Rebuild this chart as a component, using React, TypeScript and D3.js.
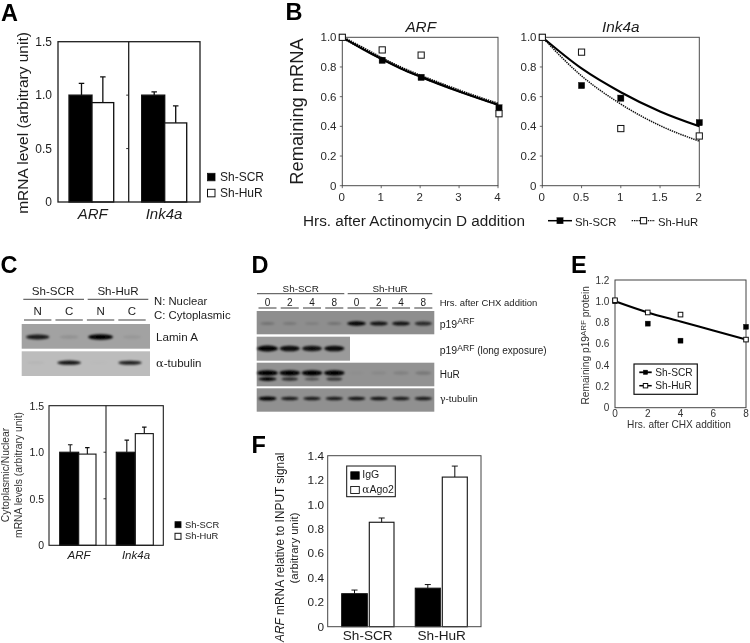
import React from "react";
import * as d3 from "d3";

const FONT = "'Liberation Sans', Arial, sans-serif";
const INK = "#1c1c1c";

// ---------- Panel A ----------
const genes = ["ARF", "Ink4a"];
const aScr = [1.0, 1.0];
const aHur = [0.93, 0.74];
const aScrTop = [1.11, 1.03];
const aHurTop = [1.17, 0.9];
const barTicks = [0, 0.5, 1.0, 1.5];
const barTickLabels = ["0", "0.5", "1.0", "1.5"];

// ---------- Panel B ----------
const arfHours = [0, 1, 2, 4];
const arfCurveHours = [0, 0.5, 1, 1.5, 2, 3, 4];
const arfCurveScr = [1.0, 0.925, 0.855, 0.79, 0.735, 0.635, 0.545];
const arfCurveHur = [1.0, 0.93, 0.86, 0.795, 0.74, 0.64, 0.55];
const arfScrPts = [1.0, 0.845, 0.73, 0.525];
const arfHurPts = [1.0, 0.915, 0.88, 0.485];
const arfXTicks = [0, 1, 2, 3, 4];
const inkHours = [0, 0.5, 1, 2];
const inkCurveHours = [0, 0.5, 1, 1.5, 2];
const inkCurveScr = [1.0, 0.79, 0.63, 0.5, 0.4];
const inkCurveHur = [1.0, 0.74, 0.55, 0.405, 0.3];
const inkScrPts = [1.0, 0.675, 0.59, 0.425];
const inkHurPts = [1.0, 0.9, 0.385, 0.335];
const inkXTicks = [0, 0.5, 1, 1.5, 2];
const inkXLabels = ["0", "0.5", "1", "1.5", "2"];
const unitTicks = [0, 0.2, 0.4, 0.6, 0.8, 1.0];
const unitLabels = ["0", "0.2", "0.4", "0.6", "0.8", "1.0"];

// ---------- Panel C ----------
const cScr = [1.0, 1.0];
const cHur = [0.98, 1.2];
const cScrTop = [1.08, 1.13];
const cHurTop = [1.05, 1.27];
const cLanes = ["N", "C", "N", "C"];
const laminBands = [0.8, 0.1, 1.0, 0.07];
const tubulinBands = [0.04, 0.85, 0.02, 0.8];

// ---------- Panel D ----------
const dLanes = ["0", "2", "4", "8", "0", "2", "4", "8"];
const p19Bands = [0.2, 0.16, 0.12, 0.2, 1.0, 0.85, 0.85, 0.7];
const p19LongBands = [1.0, 0.9, 0.85, 0.9];
const hurUpperBands = [1.0, 0.95, 0.95, 0.95, 0.03, 0.07, 0.12, 0.18];
const hurLowerBands = [1.0, 0.7, 0.45, 0.65, 0, 0, 0, 0];
const gammaBands = [0.95, 0.8, 0.8, 0.8, 0.85, 0.85, 0.8, 0.8];

// ---------- Panel E ----------
const eHours = [0, 2, 4, 8];
const eCurveHours = [0, 2, 4, 6, 8];
const eCurve = [1.0, 0.895, 0.81, 0.725, 0.64];
const eScrPts = [1.0, 0.79, 0.63, 0.76];
const eHurPts = [1.01, 0.895, 0.875, 0.64];
const eXTicks = [0, 2, 4, 6, 8];
const eYTicks = [0, 0.2, 0.4, 0.6, 0.8, 1.0, 1.2];
const eYLabels = ["0", "0.2", "0.4", "0.6", "0.8", "1.0", "1.2"];

// ---------- Panel F ----------
const fGroups = ["Sh-SCR", "Sh-HuR"];
const fIgg = [0.27, 0.315];
const fAgo = [0.855, 1.225];
const fIggTop = [0.3, 0.345];
const fAgoTop = [0.89, 1.315];
const fTicks = [0, 0.2, 0.4, 0.6, 0.8, 1.0, 1.2, 1.4];
const fLabels = ["0", "0.2", "0.4", "0.6", "0.8", "1.0", "1.2", "1.4"];

type TP = { x: number; y: number; s: number; children?: any; a?: string; i?: boolean; b?: boolean; rot?: boolean; c?: string };
function T({ x, y, s, children, a = "start", i, b, rot, c = INK }: TP) {
  return (
    <text x={x} y={y} fontSize={s} textAnchor={a as any} fontStyle={i ? "italic" : "normal"} fontWeight={b ? "bold" : "normal"} fill={c}
      transform={rot ? `rotate(-90 ${x} ${y})` : undefined}>{children}</text>
  );
}

function Frame({ x0, x1, y0, y1, sw = 1.2, c = INK }: { x0: number; x1: number; y0: number; y1: number; sw?: number; c?: string }) {
  return <rect x={x0} y={y0} width={x1 - x0} height={y1 - y0} fill="none" stroke={c} strokeWidth={sw} />;
}

function Bar({ x0, x1, y, base, filled, sw = 1.2 }: { x0: number; x1: number; y: number; base: number; filled: boolean; sw?: number }) {
  return <rect x={x0} y={y} width={x1 - x0} height={base - y} fill={filled ? "#000" : "#fff"} stroke="#111" strokeWidth={sw} />;
}

function Err({ x, from, to, w, sw = 1.2 }: { x: number; from: number; to: number; w: number; sw?: number }) {
  return <path d={`M${x},${from}V${to}M${x - w / 2},${to}H${x + w / 2}`} fill="none" stroke="#111" strokeWidth={sw} />;
}

function GroupBars(props: {
  x0: number; x1: number; y0: number; y1: number; div: number;
  scr: number[]; hur: number[]; scrTop: number[]; hurTop: number[];
  edges: number[][]; tickSize: number; catSize: number; catY: number; catX: number[]; labelRight: number; labelDy: number; sw: number; capW: number;
}) {
  const { x0, x1, y0, y1, div, scr, hur, scrTop, hurTop, edges, tickSize, catSize, catY, catX, labelRight, labelDy, sw, capW } = props;
  const y = d3.scaleLinear().domain([0, 1.5]).range([y1, y0]);
  return (
    <g>
      {genes.map((g, i) => {
        const [a, b, c] = edges[i];
        return (
          <g key={g}>
            <Err x={(a + b) / 2 + 1} from={y(scr[i])} to={y(scrTop[i])} w={capW} sw={sw} />
            <Err x={(b + c) / 2} from={y(hur[i])} to={y(hurTop[i])} w={capW} sw={sw} />
            <Bar x0={a} x1={b} y={y(scr[i])} base={y1} filled sw={sw} />
            <Bar x0={b} x1={c} y={y(hur[i])} base={y1} filled={false} sw={sw} />
            <T x={catX[i]} y={catY} s={catSize} a="middle" i>{g}</T>
          </g>
        );
      })}
      <Frame x0={x0} x1={x1} y0={y0} y1={y1} sw={sw} />
      <line x1={div} x2={div} y1={y0} y2={y1} stroke={INK} strokeWidth={sw} />
      {barTicks.map((t, i) => (
        <g key={t}>
          {t > 0 && t < 1.5 && <line x1={div - 2.5} x2={div} y1={y(t)} y2={y(t)} stroke={INK} strokeWidth={0.9} />}
          <T x={labelRight} y={y(t) + labelDy} s={tickSize} a="end">{barTickLabels[i]}</T>
        </g>
      ))}
    </g>
  );
}

function Legend2({ x, y1, y2, tx, b1, b2, fs, sq = 7.5, l1, l2 }: any) {
  return (
    <g>
      <rect x={x} y={y1} width={sq} height={sq} fill="#000" stroke="#111" strokeWidth={0.8} />
      <rect x={x} y={y2} width={sq} height={sq} fill="#fff" stroke="#111" strokeWidth={1} />
      <T x={tx} y={b1} s={fs}>{l1}</T>
      <T x={tx} y={b2} s={fs}>{l2}</T>
    </g>
  );
}

function Square({ cx, cy, filled, size = 6.2 }: { cx: number; cy: number; filled: boolean; size?: number }) {
  return <rect x={cx - size / 2} y={cy - size / 2} width={size} height={size} fill={filled ? "#000" : "#fff"} stroke="#111" strokeWidth={filled ? 0.4 : 1} />;
}

function DecayPanel(props: {
  x0: number; x1: number; y0: number; y1: number; xMax: number; title: string; titleX: number;
  hours: number[]; curveHours: number[]; curveScr: number[]; curveHur: number[]; scrPts: number[]; hurPts: number[];
  xTicks: number[]; xLabels: string[]; labelRight: number; offset: number; scrW: number; hurW: number;
}) {
  const { x0, x1, y0, y1, xMax, title, titleX, hours, curveHours, curveScr, curveHur, scrPts, hurPts, xTicks, xLabels, labelRight, offset, scrW, hurW } = props;
  const x = d3.scaleLinear().domain([0, xMax]).range([x0, x1]);
  const y = d3.scaleLinear().domain([0, 1]).range([y1, y0]);
  const line = d3.line<number>().x((_, i) => x(curveHours[i])).y((d) => y(d)).curve(d3.curveMonotoneX);
  return (
    <g>
      <Frame x0={x0} x1={x1} y0={y0} y1={y1} sw={1} c="#4a4a4a" />
      {unitTicks.map((t, i) => (
        <g key={t}>
          <line x1={x0 - 2.5} x2={x0} y1={y(t)} y2={y(t)} stroke="#444" strokeWidth={0.8} />
          <T x={labelRight} y={y(t) + 4} s={11.5} a="end" c="#2a2a2a">{unitLabels[i]}</T>
        </g>
      ))}
      {xTicks.map((t, i) => (
        <g key={t}>
          <line x1={x(t)} x2={x(t)} y1={y1} y2={y1 + 2.5} stroke="#444" strokeWidth={0.8} />
          <T x={x(t) - 0.5} y={201} s={11.5} a="middle" c="#2a2a2a">{xLabels[i]}</T>
        </g>
      ))}
      <path d={line(curveHur) as string} fill="none" stroke="#111" strokeWidth={hurW} strokeDasharray="1.4 0.9" />
      <path d={line(curveScr) as string} fill="none" stroke="#000" strokeWidth={scrW} />
      {hours.map((h, i) => <Square key={"s" + h} cx={x(h) + (i ? offset : 0)} cy={y(scrPts[i])} filled />)}
      {hours.map((h, i) => <Square key={"h" + h} cx={x(h) + (i ? offset : 0)} cy={y(hurPts[i])} filled={false} />)}
      <T x={titleX} y={32} s={15.3} a="middle" i>{title}</T>
    </g>
  );
}

function Blot({ x0, x1, y0, y1, fill, children }: any) {
  return <g><rect x={x0} y={y0} width={x1 - x0} height={y1 - y0} fill={fill} />{children}</g>;
}

function Bands({ values, scale, cy, w, h, filter = "url(#band)" }: { values: number[]; scale: (i: number) => number; cy: number; w: number; h: number; filter?: string }) {
  return (
    <g filter={filter}>
      {values.map((v, i) => v > 0 && (
        <ellipse key={i} cx={scale(i)} cy={cy} rx={(w / 2) * (0.72 + 0.28 * v)} ry={(h / 2) * (0.55 + 0.45 * v)} fill="#000" fillOpacity={Math.min(1, v * 1.05)} />
      ))}
    </g>
  );
}

function App() {
  const cLane = d3.scaleLinear().domain([0, 3]).range([37.7, 132]);
  const dLane = d3.scaleLinear().domain([0, 7]).range([267.5, 423.3]);

  const xE = d3.scaleLinear().domain([0, 8]).range([615, 746]);
  const yE = d3.scaleLinear().domain([0, 1.2]).range([407.7, 280]);
  const eLine = d3.line<number>().x((_, i) => xE(eCurveHours[i])).y((d) => yE(d)).curve(d3.curveMonotoneX);

  const yF = d3.scaleLinear().domain([0, 1.4]).range([626.7, 455.7]);
  const fEdges = [[341.7, 367.3, 369.3, 394], [415.3, 440.3, 442.3, 467.3]];
  const fCat = [367.7, 441.7];

  return (
    <svg width={750} height={643} viewBox="0 0 750 643" style={{ position: "absolute", left: 0, top: 0, background: "#fff" }} fontFamily={FONT}>
      <defs>
        <filter id="band" x="-20%" y="-60%" width="140%" height="220%"><feGaussianBlur stdDeviation="1.1 0.8" /></filter>
        <filter id="soft" x="0" y="0" width="100%" height="100%" filterUnits="userSpaceOnUse"><feGaussianBlur stdDeviation="0.3" /></filter>
      </defs>
      <g filter="url(#soft)">
        {/* Panel letters */}
        <T x={1} y={20.5} s={23.5} b c="#000">A</T>
        <T x={285.5} y={20} s={23.5} b c="#000">B</T>
        <T x={0.5} y={272.5} s={23.5} b c="#000">C</T>
        <T x={251.5} y={272.5} s={23.5} b c="#000">D</T>
        <T x={571} y={273} s={23.5} b c="#000">E</T>
        <T x={251.5} y={453} s={23.5} b c="#000">F</T>

        {/* A */}
        <GroupBars x0={58} x1={200} y0={41.7} y1={202} div={128.7} scr={aScr} hur={aHur} scrTop={aScrTop} hurTop={aHurTop}
          edges={[[69, 92, 113.7], [141.7, 164.7, 186.7]]} tickSize={12} catSize={15} catY={219.3} catX={[92.7, 164]} labelRight={52} labelDy={4.3} sw={1.3} capW={5.5} />
        <T x={28.3} y={123} s={15.5} a="middle" rot>mRNA level (arbitrary unit)</T>
        <Legend2 x={207.5} y1={173.3} y2={189.3} tx={220} b1={181} b2={196.7} fs={12} l1="Sh-SCR" l2="Sh-HuR" />

        {/* B */}
        <T x={302.7} y={111.5} s={18.3} a="middle" rot>Remaining mRNA</T>
        <DecayPanel x0={342.3} x1={498} y0={37.3} y1={185.7} xMax={4} title="ARF" titleX={420.7} hours={arfHours} curveHours={arfCurveHours}
          curveScr={arfCurveScr} curveHur={arfCurveHur} scrPts={arfScrPts} hurPts={arfHurPts} xTicks={arfXTicks} xLabels={arfXTicks.map(String)} labelRight={336.5} offset={1} scrW={2.2} hurW={3} />
        <DecayPanel x0={542.3} x1={699.3} y0={37.3} y1={185.7} xMax={2} title="Ink4a" titleX={620.7} hours={inkHours} curveHours={inkCurveHours}
          curveScr={inkCurveScr} curveHur={inkCurveHur} scrPts={inkScrPts} hurPts={inkHurPts} xTicks={inkXTicks} xLabels={inkXLabels} labelRight={536.5} offset={0} scrW={2.1} hurW={1.5} />
        <T x={303} y={226} s={15.3}>Hrs. after Actinomycin D addition</T>
        <line x1={548} x2={572} y1={220.7} y2={220.7} stroke="#000" strokeWidth={1.5} />
        <Square cx={560} cy={220.7} filled />
        <T x={575} y={225.5} s={11.3}>Sh-SCR</T>
        <line x1={631.7} x2={655} y1={220.7} y2={220.7} stroke="#111" strokeWidth={1.3} strokeDasharray="1.4 0.9" />
        <Square cx={643.5} cy={220.7} filled={false} />
        <T x={658} y={225.5} s={11.3}>Sh-HuR</T>

        {/* C blots */}
        <T x={53} y={295} s={11.6} a="middle">Sh-SCR</T>
        <T x={118} y={295} s={11.6} a="middle">Sh-HuR</T>
        <line x1={23.3} x2={84} y1={299.3} y2={299.3} stroke="#333" strokeWidth={0.9} />
        <line x1={87.7} x2={148.3} y1={299.3} y2={299.3} stroke="#333" strokeWidth={0.9} />
        {cLanes.map((l, i) => (
          <g key={i}>
            <T x={cLane(i)} y={315.3} s={11.5} a="middle">{l}</T>
            <line x1={cLane(i) - 13.7} x2={cLane(i) + 13.7} y1={320} y2={320} stroke="#555" strokeWidth={1.1} />
          </g>
        ))}
        <T x={154} y={305} s={11.3}>N: Nuclear</T>
        <T x={154} y={318.7} s={11.4}>C: Cytoplasmic</T>
        <Blot x0={21.7} x1={150} y0={324} y1={348.7} fill="#a2a2a2">
          <Bands values={laminBands} scale={cLane} cy={337} w={25} h={5.5} />
        </Blot>
        <Blot x0={21.7} x1={150} y0={351.3} y1={376} fill="#bcbcbc">
          <Bands values={tubulinBands} scale={(i) => cLane(i) - (i === 1 ? 0 : 2)} cy={362.7} w={25} h={4.5} />
        </Blot>
        <T x={156} y={341.3} s={11.6}>Lamin A</T>
        <T x={156} y={367} s={11.5}><tspan fontFamily="'DejaVu Serif', serif">α</tspan>-tubulin</T>

        {/* C bars */}
        <GroupBars x0={49} x1={163.3} y0={405.7} y1={545.3} div={106} scr={cScr} hur={cHur} scrTop={cScrTop} hurTop={cHurTop}
          edges={[[59.7, 78.7, 96], [116.3, 135.3, 153.3]]} tickSize={10.5} catSize={11.5} catY={559} catX={[79, 136]} labelRight={44} labelDy={3.8} sw={1.1} capW={4.5} />
        <T x={9} y={475} s={10.3} a="middle" rot c="#333">Cytoplasmic/Nuclear</T>
        <T x={22} y={475} s={10.3} a="middle" rot c="#333">mRNA levels (arbitrary unit)</T>
        <Legend2 x={175} y1={521.7} y2={533.3} tx={185} b1={527.8} b2={539} fs={9.4} sq={6} l1="Sh-SCR" l2="Sh-HuR" />

        {/* D blots */}
        <T x={300.7} y={292} s={9.9} a="middle">Sh-SCR</T>
        <T x={390} y={292} s={9.9} a="middle">Sh-HuR</T>
        <line x1={257} x2={344.3} y1={293.7} y2={293.7} stroke="#333" strokeWidth={0.9} />
        <line x1={347.7} x2={432.3} y1={293.7} y2={293.7} stroke="#333" strokeWidth={0.9} />
        {dLanes.map((l, i) => (
          <g key={i}>
            <T x={dLane(i)} y={306} s={10} a="middle">{l}</T>
            <line x1={dLane(i) - 9} x2={dLane(i) + 9} y1={308} y2={308} stroke="#222" strokeWidth={0.9} />
          </g>
        ))}
        <T x={439.7} y={306} s={9.5}>Hrs. after CHX addition</T>
        <Blot x0={256.7} x1={434.3} y0={311} y1={334.3} fill="#8e8e8e">
          <Bands values={p19Bands} scale={dLane} cy={323.5} w={19} h={4.5} />
        </Blot>
        <Blot x0={256.7} x1={350} y0={336.7} y1={360.7} fill="#9a9a9a">
          <Bands values={p19LongBands} scale={dLane} cy={348.5} w={21} h={6} />
        </Blot>
        <Blot x0={256.7} x1={434.3} y0={362.7} y1={386.3} fill="#929292">
          <Bands values={hurUpperBands} scale={dLane} cy={373} w={21} h={5.5} />
          <Bands values={hurLowerBands} scale={dLane} cy={379} w={18} h={3.8} />
        </Blot>
        <Blot x0={256.7} x1={434.3} y0={388.3} y1={411.7} fill="#909090">
          <Bands values={gammaBands} scale={dLane} cy={398.5} w={18.5} h={4} />
        </Blot>
        <T x={439.7} y={327.7} s={10.5}>p19<tspan fontSize={8.6} dy={-3.5}>ARF</tspan></T>
        <T x={439.7} y={354} s={10.5}>p19<tspan fontSize={8.6} dy={-3.5}>ARF</tspan><tspan fontSize={10} dy={3.5}> (long exposure)</tspan></T>
        <T x={439.7} y={377.7} s={10}>HuR</T>
        <T x={439.7} y={401.7} s={9.8}><tspan fontFamily="'DejaVu Serif', serif">γ</tspan>-tubulin</T>

        {/* E */}
        <Frame x0={615} x1={746} y0={280} y1={407.7} sw={1} c="#444" />
        {eYTicks.map((t, i) => (
          <T key={t} x={609.3} y={yE(t) + 3.6} s={10} a="end" c="#333">{eYLabels[i]}</T>
        ))}
        {eXTicks.map((t) => (
          <T key={t} x={xE(t)} y={417.3} s={10} a="middle" c="#333">{t}</T>
        ))}
        <path d={eLine(eCurve) as string} fill="none" stroke="#000" strokeWidth={2.1} />
        {eHours.map((h, i) => <Square key={"es" + h} cx={xE(h)} cy={yE(eScrPts[i])} filled size={5} />)}
        {eHours.map((h, i) => <Square key={"eh" + h} cx={xE(h)} cy={yE(eHurPts[i])} filled={false} size={4.6} />)}
        <T x={679} y={428.3} s={10.1} a="middle" c="#333">Hrs. after CHX addition</T>
        <T x={588.7} y={345.3} s={10.2} a="middle" rot c="#333">Remaining p19<tspan fontSize={8} dy={-2.5}>ARF</tspan><tspan dy={2.5}> protein</tspan></T>
        <rect x={634} y={364} width={63.3} height={30.3} fill="#fff" stroke="#111" strokeWidth={1.2} />
        <line x1={639.3} x2={651.7} y1={372.3} y2={372.3} stroke="#000" strokeWidth={1.8} />
        <Square cx={645.5} cy={372.3} filled size={4.4} />
        <line x1={639.3} x2={651.7} y1={385.7} y2={385.7} stroke="#000" strokeWidth={1.5} />
        <Square cx={645.5} cy={385.7} filled={false} size={4.4} />
        <T x={655.3} y={376} s={10.2}>Sh-SCR</T>
        <T x={655.3} y={389.3} s={10.2}>Sh-HuR</T>

        {/* F */}
        {fGroups.map((g, i) => {
          const [a, b, c, d] = fEdges[i];
          return (
            <g key={g}>
              <Err x={(a + b) / 2} from={yF(fIgg[i])} to={yF(fIggTop[i])} w={6} sw={1} />
              <Err x={(c + d) / 2} from={yF(fAgo[i])} to={yF(fAgoTop[i])} w={6} sw={1} />
              <Bar x0={a} x1={b} y={yF(fIgg[i])} base={626.7} filled sw={1.1} />
              <Bar x0={c} x1={d} y={yF(fAgo[i])} base={626.7} filled={false} sw={1.1} />
              <T x={fCat[i]} y={640} s={13.6} a="middle">{g}</T>
            </g>
          );
        })}
        <Frame x0={327.7} x1={481} y0={455.7} y1={626.7} sw={1} c="#444" />
        {fTicks.map((t, i) => (
          <T key={t} x={324} y={yF(t) + 4} s={11.8} a="end">{fLabels[i]}</T>
        ))}
        <T x={284} y={547.3} s={11.9} a="middle" rot><tspan fontStyle="italic">ARF</tspan> mRNA relative to INPUT signal</T>
        <T x={298.3} y={548} s={11.4} a="middle" rot>(arbitrary unit)</T>
        <rect x={346.7} y={466} width={48.6} height={30.7} fill="#fff" stroke="#111" strokeWidth={1} />
        <rect x={350.7} y={471.7} width={8.6} height={7.6} fill="#000" stroke="#111" strokeWidth={0.6} />
        <rect x={350.7} y={486.5} width={8.6} height={7} fill="#fff" stroke="#111" strokeWidth={0.9} />
        <T x={362.3} y={478.3} s={10.5}>IgG</T>
        <T x={362.3} y={493.3} s={10.5}><tspan fontFamily="'DejaVu Serif', serif">α</tspan>Ago2</T>
      </g>
    </svg>
  );
}

export default App;
